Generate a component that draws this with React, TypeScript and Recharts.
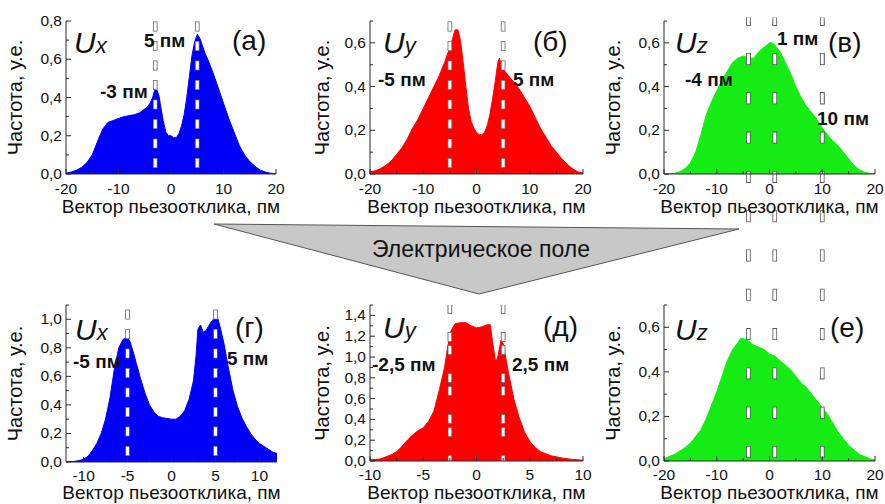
import React from 'react';
import { AreaChart, Area, XAxis, YAxis, ReferenceLine } from 'recharts';

const FONT = "'Liberation Sans', Arial, Helvetica, sans-serif";
const AX = '#2a2a2a';

// ---- (а) Ux before field ----
const uxBeforeX = [-20, -19, -18, -17, -16, -15, -14, -13, -12, -11, -10, -9, -8, -7, -6, -5, -4.5, -4, -3.5, -3, -2.7, -2.3, -2, -1.5, -1, -0.5, 0, 0.5, 1, 1.5, 2, 2.5, 3, 3.5, 4, 4.5, 5, 5.5, 6, 6.5, 7, 8, 9, 10, 11, 12, 13, 14, 15, 16, 17, 18, 19, 20];
const uxBeforeY = [0.005, 0.01, 0.02, 0.035, 0.06, 0.1, 0.17, 0.235, 0.27, 0.28, 0.29, 0.3, 0.305, 0.31, 0.32, 0.34, 0.35, 0.37, 0.4, 0.45, 0.44, 0.41, 0.36, 0.28, 0.22, 0.2, 0.2, 0.19, 0.19, 0.21, 0.25, 0.31, 0.4, 0.51, 0.62, 0.69, 0.73, 0.71, 0.67, 0.63, 0.6, 0.53, 0.45, 0.37, 0.29, 0.22, 0.15, 0.1, 0.065, 0.04, 0.02, 0.01, 0.004, 0.002];

// ---- (б) Uy before field ----
const uyBeforeX = [-20, -19, -18, -17, -16, -15, -14, -13, -12, -11, -10, -9, -8, -7, -6, -5, -4.5, -4, -3.5, -3, -2.5, -2, -1.5, -1, -0.5, 0, 0.5, 1, 1.5, 2, 2.5, 3, 3.5, 4, 4.3, 4.7, 5, 6, 7, 8, 9, 10, 11, 12, 13, 14, 15, 16, 17, 18, 19, 20];
const uyBeforeY = [0.01, 0.015, 0.025, 0.04, 0.06, 0.09, 0.12, 0.16, 0.21, 0.25, 0.3, 0.35, 0.4, 0.45, 0.51, 0.58, 0.62, 0.66, 0.66, 0.61, 0.51, 0.4, 0.3, 0.24, 0.21, 0.19, 0.18, 0.18, 0.19, 0.22, 0.27, 0.34, 0.42, 0.51, 0.53, 0.5, 0.48, 0.45, 0.42, 0.39, 0.35, 0.31, 0.26, 0.21, 0.17, 0.13, 0.1, 0.07, 0.045, 0.025, 0.01, 0.005];

// ---- (в) Uz before field ----
const uzBeforeX = [-20, -19, -18, -17, -16, -15, -14, -13, -12, -11, -10, -9, -8, -7, -6, -5, -4, -3, -2, -1, 0, 0.5, 1, 2, 3, 4, 5, 6, 7, 8, 9, 10, 11, 12, 13, 14, 15, 16, 17, 18, 19, 20];
const uzBeforeY = [0, 0.001, 0.003, 0.01, 0.025, 0.05, 0.1, 0.18, 0.27, 0.33, 0.38, 0.43, 0.47, 0.51, 0.53, 0.54, 0.53, 0.53, 0.56, 0.58, 0.6, 0.6, 0.59, 0.56, 0.51, 0.46, 0.4, 0.35, 0.31, 0.28, 0.25, 0.21, 0.18, 0.15, 0.13, 0.1, 0.07, 0.04, 0.02, 0.008, 0.003, 0];

// ---- (г) Ux under field ----
const uxFieldX = [-12, -11, -10.5, -10, -9.5, -9, -8.5, -8, -7.5, -7, -6.5, -6, -5.5, -5, -4.7, -4.3, -4, -3.5, -3, -2.5, -2, -1.5, -1, 0, 0.5, 1, 1.5, 2, 2.5, 2.8, 3, 3.3, 3.6, 3.9, 4.2, 4.6, 5, 5.3, 5.6, 6, 6.5, 7, 7.5, 8, 8.5, 9, 9.5, 10, 10.5, 11, 11.5, 12];
const uxFieldY = [0, 0.005, 0.01, 0.02, 0.04, 0.08, 0.13, 0.2, 0.3, 0.45, 0.65, 0.8, 0.86, 0.87, 0.84, 0.76, 0.69, 0.58, 0.48, 0.4, 0.35, 0.32, 0.31, 0.3, 0.3, 0.32, 0.36, 0.44, 0.57, 0.75, 0.93, 0.96, 0.91, 0.92, 0.95, 0.99, 1.01, 1.0, 0.93, 0.82, 0.65, 0.5, 0.39, 0.31, 0.25, 0.2, 0.16, 0.13, 0.11, 0.09, 0.07, 0.06];

// ---- (д) Uy under field ----
const uyFieldX = [-10, -9, -8.5, -8, -7.5, -7, -6.5, -6, -5.5, -5, -4.5, -4, -3.5, -3, -2.7, -2.4, -2, -1.5, -1, -0.5, 0, 0.5, 1, 1.3, 1.5, 1.8, 2, 2.3, 2.5, 3, 3.5, 4, 4.5, 5, 5.5, 6, 7, 8, 9, 10];
const uyFieldY = [0.01, 0.02, 0.04, 0.06, 0.09, 0.14, 0.2, 0.25, 0.29, 0.32, 0.38, 0.48, 0.68, 0.9, 1.1, 1.25, 1.32, 1.33, 1.33, 1.3, 1.28, 1.29, 1.31, 1.31, 1.15, 0.95, 1.0, 1.16, 1.13, 0.85, 0.6, 0.42, 0.28, 0.19, 0.13, 0.09, 0.05, 0.03, 0.015, 0.008];

// ---- (е) Uz under field ----
const uzFieldX = [-20, -19, -18, -17, -16, -15, -14, -13, -12, -11, -10, -9, -8, -7, -6, -5.5, -5, -4, -3, -2, -1, 0, 1, 2, 3, 4, 5, 6, 7, 8, 9, 10, 11, 12, 13, 14, 15, 16, 17, 18, 19, 20];
const uzFieldY = [0.01, 0.02, 0.03, 0.045, 0.06, 0.08, 0.11, 0.14, 0.19, 0.25, 0.31, 0.38, 0.45, 0.5, 0.53, 0.55, 0.55, 0.54, 0.52, 0.51, 0.5, 0.48, 0.47, 0.45, 0.43, 0.41, 0.38, 0.35, 0.33, 0.3, 0.27, 0.24, 0.21, 0.17, 0.13, 0.1, 0.07, 0.05, 0.03, 0.02, 0.01, 0.005];

// ---- ticks ----
const ticks20 = [-20, -15, -10, -5, 0, 5, 10, 15, 20];
const ticks10 = [-10, -7.5, -5, -2.5, 0, 2.5, 5, 7.5, 10];
const ticks12 = [-10, -7.5, -5, -2.5, 0, 2.5, 5, 7.5, 10];
const yTicks08 = [0, 0.1, 0.2, 0.3, 0.4, 0.5, 0.6, 0.7, 0.8];
const yTicks07 = [0, 0.1, 0.2, 0.3, 0.4, 0.5, 0.6, 0.7];
const yTicks11 = [0, 0.1, 0.2, 0.3, 0.4, 0.5, 0.6, 0.7, 0.8, 0.9, 1.0, 1.1];
const yTicks15 = [0, 0.1, 0.2, 0.3, 0.4, 0.5, 0.6, 0.7, 0.8, 0.9, 1.0, 1.1, 1.2, 1.3, 1.4, 1.5];

// marker positions (пм)
const markersA = [-3, 5];
const markersB = [-5, 5];
const markersC = [-4, 1, 10];
const markersD = [-5, 5];
const markersE = [-2.5, 2.5];
const markersF = [-4, 1, 10];

const X_TITLE = 'Вектор пьезоотклика, пм';
const Y_TITLE = 'Частота, у.е.';

const isMajor = (v: number, step: number) => Math.abs(v / step - Math.round(v / step)) < 1e-6;
const fmtY = (v: number) => v.toFixed(1).replace('.', ',');
const fmtX = (v: number) => String(Math.round(v));

function bottomTick(step: number, dy: number) {
  return (p: any) => {
    const { x, y, payload } = p;
    const major = isMajor(payload.value, step);
    return (
      <g>
        <line x1={x} x2={x} y1={y} y2={y - (major ? 5 : 3)} stroke={AX} strokeWidth={1} />
        {major && (
          <text x={x} y={y + dy} textAnchor="middle" fontSize={15.5} fontFamily={FONT} fill="#111">
            {fmtX(payload.value)}
          </text>
        )}
      </g>
    );
  };
}
function topTick(step: number) {
  return (p: any) => {
    const { x, y, payload } = p;
    const major = isMajor(payload.value, step);
    return <line x1={x} x2={x} y1={y} y2={y + (major ? 5 : 3)} stroke={AX} strokeWidth={1} />;
  };
}
function leftTick(step: number) {
  return (p: any) => {
    const { x, y, payload } = p;
    const major = isMajor(payload.value, step);
    return (
      <g>
        <line x1={x} x2={x + (major ? 5 : 3)} y1={y} y2={y} stroke={AX} strokeWidth={1} />
        {major && (
          <text x={x - 4} y={y + 5} textAnchor="end" fontSize={15.5} fontFamily={FONT} fill="#111">
            {fmtY(payload.value)}
          </text>
        )}
      </g>
    );
  };
}
function rightTick(step: number) {
  return (p: any) => {
    const { x, y, payload } = p;
    const major = isMajor(payload.value, step);
    return <line x1={x} x2={x - (major ? 5 : 3)} y1={y} y2={y} stroke={AX} strokeWidth={1} />;
  };
}

type Dash = { ow: number; od: string; oo: number; ww: number; wd: string; wo: number; oc: string };
const dashFine: Dash = { ow: 4.6, od: '10 9.5', oo: -6, ww: 3, wd: '8.4 11.1', wo: -6.8, oc: '#666' };
const dashPair: Dash = { ow: 4.6, od: '10 3 10 18', oo: -24, ww: 3, wd: '8.4 4.6 8.4 19.6', wo: -24.8, oc: '#555' };
const dashWideE: Dash = { ow: 4.6, od: '12 27.3', oo: -3, ww: 3, wd: '10.4 28.9', wo: -3.8, oc: '#555' };
const dashWideC: Dash = { ow: 4.6, od: '12 27.3', oo: 8.9, ww: 3, wd: '10.4 28.9', wo: 8.1, oc: '#555' };

type PanelProps = {
  left: number; top: number; w: number; h: number;
  mTop: number; mRight: number; yAxisW: number; xAxisH: number;
  xs: number[]; ys: number[]; color: string;
  xDomain: [number, number]; xTicks: number[]; xStep: number;
  yDomain: [number, number]; yTicks: number[]; yStep: number;
  yTitleOff: number; xTitleOff: number; xDy: number;
  markers: number[]; dash: Dash; segTop?: number;
};

function Panel(p: PanelProps) {
  const data = p.xs.map((x, i) => ({ x, y: p.ys[i] }));
  const d = p.dash;
  const lines: any[] = [];
  p.markers.forEach((m, i) => {
    const common: any = p.segTop
      ? { segment: [{ x: m, y: 0 }, { x: m, y: p.segTop }], ifOverflow: 'visible' }
      : { x: m };
    lines.push(
      <ReferenceLine key={'o' + i} {...common} stroke={d.oc} strokeWidth={d.ow} strokeDasharray={d.od} strokeDashoffset={d.oo} />
    );
    lines.push(
      <ReferenceLine key={'w' + i} {...common} stroke="#ffffff" strokeWidth={d.ww} strokeDasharray={d.wd} strokeDashoffset={d.wo} />
    );
  });
  return (
    <div style={{ position: 'absolute', left: p.left, top: p.top }}>
      <AreaChart width={p.w} height={p.h} data={data} margin={{ top: p.mTop, right: p.mRight, left: 0, bottom: 0 }}>
        <Area
          dataKey="y"
          type="linear"
          stroke={p.color}
          strokeWidth={1}
          fill={p.color}
          fillOpacity={1}
          dot={false}
          activeDot={false}
          isAnimationActive={false}
        />
        <XAxis
          dataKey="x"
          type="number"
          domain={p.xDomain}
          ticks={p.xTicks}
          interval={0}
          allowDataOverflow
          tickSize={0}
          tickMargin={0}
          tick={bottomTick(p.xStep, p.xDy)}
          height={p.xAxisH}
          axisLine={{ stroke: AX, strokeWidth: 1 }}
          label={{ value: X_TITLE, position: 'insideBottom', offset: p.xTitleOff, fill: '#111', style: { fontSize: 19, fontFamily: FONT } }}
        />
        <XAxis
          xAxisId="top"
          orientation="top"
          dataKey="x"
          type="number"
          domain={p.xDomain}
          ticks={p.xTicks}
          interval={0}
          allowDataOverflow
          tickSize={0}
          tickMargin={0}
          tick={topTick(p.xStep)}
          height={0}
          axisLine={{ stroke: AX, strokeWidth: 1 }}
        />
        <YAxis
          type="number"
          domain={p.yDomain}
          ticks={p.yTicks}
          interval={0}
          allowDataOverflow
          tickSize={0}
          tickMargin={0}
          tick={leftTick(p.yStep)}
          width={p.yAxisW}
          axisLine={{ stroke: AX, strokeWidth: 1 }}
          label={{ value: Y_TITLE, angle: -90, position: 'insideLeft', offset: p.yTitleOff, fill: '#111', style: { textAnchor: 'middle', fontSize: 20, fontFamily: FONT } }}
        />
        <YAxis
          yAxisId="right"
          orientation="right"
          type="number"
          domain={p.yDomain}
          ticks={p.yTicks}
          interval={0}
          allowDataOverflow
          tickSize={0}
          tickMargin={0}
          tick={rightTick(p.yStep)}
          width={0}
          axisLine={{ stroke: AX, strokeWidth: 1 }}
        />
        {lines}
      </AreaChart>
    </div>
  );
}

const BLUE = '#0000f8';
const RED = '#ff0000';
const GREEN = '#14ec14';

const labelBold = { fontFamily: FONT, fontWeight: 700, fontSize: 19, fill: '#111' } as const;
const labelPanel = { fontFamily: FONT, fontSize: 28, fill: '#111' } as const;

function UComp({ x, y, sub }: { x: number; y: number; sub: string }) {
  return (
    <text x={x} y={y} fontFamily={FONT} fontStyle="italic" fill="#111">
      <tspan fontSize={30}>U</tspan>
      <tspan fontSize={22}>{sub}</tspan>
    </text>
  );
}

export default function App() {
  return (
    <div style={{ position: 'absolute', left: 0, top: 0, width: 885, height: 504, background: '#fff', overflow: 'hidden', fontFamily: FONT }}>
      {/* (е) first: its dashed guides run up through the gap into (в) */}
      <Panel left={595} top={0} w={290} h={504} mTop={305} mRight={10} yAxisW={69} xAxisH={43}
        xs={uzFieldX} ys={uzFieldY} color={GREEN}
        xDomain={[-20, 20]} xTicks={ticks20} xStep={10}
        yDomain={[0, 0.7]} yTicks={yTicks07} yStep={0.2}
        yTitleOff={18} xTitleOff={5} xDy={18.5}
        markers={markersF} dash={dashWideE} segTop={1.99} />
      <Panel left={595} top={0} w={290} h={220} mTop={21} mRight={10} yAxisW={69} xAxisH={46}
        xs={uzBeforeX} ys={uzBeforeY} color={GREEN}
        xDomain={[-20, 20]} xTicks={ticks20} xStep={10}
        yDomain={[0, 0.7]} yTicks={yTicks07} yStep={0.2}
        yTitleOff={18} xTitleOff={7} xDy={20}
        markers={markersC} dash={dashWideC} />
      <Panel left={0} top={0} w={290} h={220} mTop={21} mRight={14} yAxisW={66} xAxisH={46}
        xs={uxBeforeX} ys={uxBeforeY} color={BLUE}
        xDomain={[-20, 20]} xTicks={ticks20} xStep={10}
        yDomain={[0, 0.8]} yTicks={yTicks08} yStep={0.2}
        yTitleOff={15} xTitleOff={7} xDy={20}
        markers={markersA} dash={dashFine} />
      <Panel left={300} top={0} w={300} h={220} mTop={21} mRight={17} yAxisW={70} xAxisH={46}
        xs={uyBeforeX} ys={uyBeforeY} color={RED}
        xDomain={[-20, 20]} xTicks={ticks20} xStep={10}
        yDomain={[0, 0.7]} yTicks={yTicks07} yStep={0.2}
        yTitleOff={22} xTitleOff={7} xDy={20}
        markers={markersB} dash={dashFine} />
      <Panel left={0} top={285} w={290} h={219} mTop={20} mRight={13} yAxisW={66} xAxisH={42}
        xs={uxFieldX} ys={uxFieldY} color={BLUE}
        xDomain={[-12, 12]} xTicks={ticks12} xStep={5}
        yDomain={[0, 1.1]} yTicks={yTicks11} yStep={0.2}
        yTitleOff={15} xTitleOff={5} xDy={18.5}
        markers={markersD} dash={dashFine} />
      <Panel left={300} top={285} w={300} h={219} mTop={20} mRight={17} yAxisW={70} xAxisH={43}
        xs={uyFieldX} ys={uyFieldY} color={RED}
        xDomain={[-10, 10]} xTicks={ticks10} xStep={5}
        yDomain={[0, 1.5]} yTicks={yTicks15} yStep={0.2}
        yTitleOff={22} xTitleOff={5} xDy={18.5}
        markers={markersE} dash={dashPair} />

      <svg width={885} height={504} style={{ position: 'absolute', left: 0, top: 0, pointerEvents: 'none' }}>
        {/* field arrow */}
        <polygon points="214,224 739,229 479,294" fill="#c8c8c8" stroke="#555" strokeWidth={1} />
        <text x={481} y={257} textAnchor="middle" fontFamily={FONT} fontSize={23} fill="#111">Электрическое поле</text>

        {/* (а) */}
        <UComp x={74} y={53} sub="x" />
        <text x={232} y={50} {...labelPanel}>(а)</text>
        <text x={144} y={47} {...labelBold}>5 пм</text>
        <text x={100} y={98} {...labelBold}>-3 пм</text>

        {/* (б) */}
        <UComp x={383} y={53} sub="y" />
        <text x={533} y={51} {...labelPanel}>(б)</text>
        <text x={378} y={86} {...labelBold}>-5 пм</text>
        <text x={513} y={86} {...labelBold}>5 пм</text>

        {/* (в) */}
        <UComp x={675} y={53} sub="z" />
        <text x={828} y={52} {...labelPanel}>(в)</text>
        <text x={777} y={45} {...labelBold}>1 пм</text>
        <text x={685} y={86} {...labelBold}>-4 пм</text>
        <text x={817} y={125} {...labelBold}>10 пм</text>

        {/* (г) */}
        <UComp x={75} y={340} sub="x" />
        <text x={235} y={337} {...labelPanel}>(г)</text>
        <text x={73} y={368} {...labelBold}>-5 пм</text>
        <text x={227} y={365} {...labelBold}>5 пм</text>

        {/* (д) */}
        <UComp x={383} y={338} sub="y" />
        <text x={543} y={336} {...labelPanel}>(д)</text>
        <text x={372} y={371} {...labelBold}>-2,5 пм</text>
        <text x={512} y={371} {...labelBold}>2,5 пм</text>

        {/* (е) */}
        <UComp x={675} y={340} sub="z" />
        <text x={830} y={337} {...labelPanel}>(е)</text>
      </svg>
    </div>
  );
}
